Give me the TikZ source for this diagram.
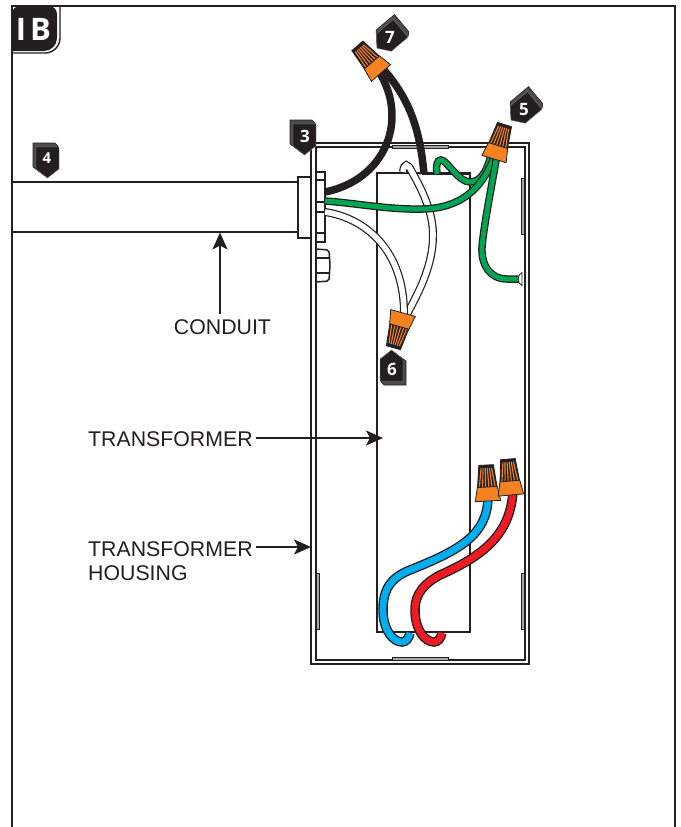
\documentclass[tikz,border=0pt]{standalone}
\usetikzlibrary{arrows.meta}
\usepackage{fontspec}
\setmainfont{Liberation Sans}
\newfontfamily\badgefont{Open Sans}
\definecolor{nutor}{HTML}{F58220}
\definecolor{wgreen}{HTML}{00A651}
\definecolor{wblue}{HTML}{00AEEF}
\definecolor{wred}{HTML}{ED1C24}
\definecolor{ink}{HTML}{231F20}
\newcommand{\wirepath}[5]{%
  \draw[#2,line width=#4] #1;
  \draw[#3,line width=#5] #1;}
\tikzset{
  frameline/.style={draw=ink,line width=1.8pt},
  thinline/.style={draw=ink,line width=1.5pt},
  housingtab/.style={draw=ink,line width=.8pt,fill=gray!70},
  labeltext/.style={font=\fontsize{21.3}{25}\selectfont,text=ink,inner sep=0pt},
  callout/.style={draw=ink,line width=1.5pt,-{Stealth[length=17pt,width=15pt,inset=4pt]}},
  badgenum/.style={text=white,inner sep=0pt,font=\badgefont\bfseries\fontsize{17}{17}\selectfont},
  wirenut/.pic={
    \path[fill=ink,draw=ink,line width=.8pt] (-10,-12) -- (-7.3,-36) -- (7.3,-36) -- (10,-12) -- cycle;
    \foreach \k in {-5,-3,-1,1,3,5}{\draw[nutor,line width=1.1pt] (\k*1.6,-13) -- (\k*1.05,-33);}
    \path[fill=nutor,draw=ink,line width=.8pt] (-12.7,0) -- (-10,-14) -- (10,-14) -- (12.7,0) -- cycle;
  },
  badge/.pic={
    \path[fill=gray!60!black,draw=ink,line width=.6pt] (-14,-15) -- (8,-15) -- (11,-12) -- (11,9) -- (-2,18) -- (-14,9) -- cycle;
    \path[fill=ink,draw=gray,line width=.4pt] (-11,-11) -- (12,-11) -- (12,11) -- (0.5,20) -- (-11,11) -- cycle;
  },
}
\begin{document}
\begin{tikzpicture}[x=1pt,y=-1pt]
\useasboundingbox (0,0) rectangle (680,827);
\fill[white] (0,0) rectangle (680,827);
% outer frame
\draw[frameline] (12,827) -- (12,6) -- (675,6) -- (675,827);
\fill[ink] (12,51) [rounded corners=8pt] -- (12,6) -- (57,6) [rounded corners=13pt] -- (57,51) [sharp corners] -- cycle;
\draw[ink,line width=1.4pt] (60,6) [rounded corners=15pt] -- (60,53) [sharp corners] -- (12,53);
\node[text=white,inner sep=0pt,font=\badgefont\bfseries\fontsize{31}{31}\selectfont] (tabtitle) at (33.5,29) {I\kern4pt B};
% housing
\draw[thinline,fill=white] (311,143) rectangle (529,664);
\draw[thinline] (316,147) rectangle (525,660);
\draw[housingtab] (392,145) rectangle (448,148);
\draw[housingtab] (392,657) rectangle (448,660);
\draw[housingtab] (521,178) rectangle (524,234);
\draw[housingtab] (521,573) rectangle (524,629);
\draw[housingtab] (316,573) rectangle (319,629);
% transformer
\draw[thinline] (377,173) rectangle (470,632);
\draw[ink,line width=2.2pt] (377,632) -- (470,632);
\draw[ink,line width=2.2pt] (422,173.5) -- (470,173.5);
% conduit
\draw[thinline,fill=white] (12,182) rectangle (298,232);
\draw[thinline,fill=white] (298,177) rectangle (311,238);
\draw[thinline,fill=white] (316,172) rectangle (325,242);
\draw[thinline] (316,180) -- (325,180) (316,202) -- (325,202) (316,212) -- (325,212) (316,233) -- (325,233);
\draw[thinline,fill=white,rounded corners=2pt] (316,249) -- (329,250) -- (330,265) -- (329,281) -- (316,282) -- cycle;
\draw[thinline] (316,258) -- (330,258) (316,273) -- (330,273);
% white wires
\wirepath{(403,172) .. controls (404,163) and (408,163) .. (412,172) .. controls (425,195) and (433,215) .. (433,235) .. controls (433,265) and (420,290) .. (406,316)}{ink}{white}{8pt}{5.6pt}
\wirepath{(325,212) .. controls (365,218) and (405,250) .. (404,316)}{ink}{white}{8pt}{5.6pt}
% black wires
\draw[ink,line width=7.5pt] (325,192) .. controls (385,180) and (410,120) .. (378,70);
\draw[ink,line width=7.5pt] (424,174) .. controls (420,130) and (410,100) .. (384,70);
% green wires
\wirepath{(437,174) .. controls (436,165) and (437,160) .. (441,160) .. controls (447,160) and (458,182) .. (470,182) .. controls (480,182) and (487,172) .. (491,155)}{ink}{wgreen}{7.5pt}{5pt}
\wirepath{(325,201) .. controls (355,203) and (390,210) .. (423,209) .. controls (460,208) and (482,190) .. (495,155)}{ink}{wgreen}{7.5pt}{5pt}
\wirepath{(497,155) .. controls (490,195) and (484,225) .. (482,247) .. controls (481,265) and (490,279) .. (507,279) -- (520,279)}{ink}{wgreen}{7.5pt}{5pt}
\draw[ink,line width=.8pt,fill=white] (522,272.5) .. controls (517,274) and (517,284) .. (522,285.5) -- cycle;
% blue and red wires
\wirepath{(488,498) .. controls (487,535) and (460,550) .. (410,570) .. controls (390,578) and (383,590) .. (383,610) .. controls (383,630) and (393,642) .. (402,642) .. controls (406,642) and (409,638) .. (410,633)}{ink}{wblue}{9.5pt}{6.8pt}
\wirepath{(513,492) .. controls (510,530) and (490,553) .. (440,575) .. controls (425,583) and (415,593) .. (415,610) .. controls (415,630) and (425,642) .. (434,642) .. controls (438,642) and (441,638) .. (442,633)}{ink}{wred}{9.5pt}{6.8pt}
% wire connectors
\pic (nutseven) [rotate=41] at (381,73) {wirenut};
\pic (nutfive) [rotate=-17] at (494,159) {wirenut};
\pic (nutsix) [rotate=164.5] at (403,313) {wirenut};
\pic (nutblue) [rotate=3] at (488,501) {wirenut};
\pic (nutred) [rotate=5] at (511,495) {wirenut};
% badges
\pic (badgethree) at (304,135) {badge};
\node[badgenum] (numthree) at (305,136) {3};
\pic (badgefour) at (47,158) {badge};
\node[badgenum,font=\badgefont\bfseries\fontsize{15}{15}\selectfont] (numfour) at (47,158) {4};
\pic (badgefive) [rotate=-50] at (526,107) {badge};
\node[badgenum] (numfive) at (524,110) {5};
\pic (badgesix) [rotate=180] at (392,370) {badge};
\node[badgenum] (numsix) at (392,369) {6};
\pic (badgeseven) [rotate=-50] at (392,35) {badge};
\node[badgenum] (numseven) at (390,37) {7};
% labels
\node[labeltext,anchor=base] (conduitlabel) at (222.5,334.5) {CONDUIT};
\coordinate (conduitend) at (220,232.5);
\coordinate (conduitstart) at (220,314);
\draw[callout] (conduitstart) -- (conduitend);
\node[labeltext,anchor=base west] (transformerlabel) at (88,446) {TRANSFORMER};
\coordinate (transformerend) at (383,438);
\draw[callout] ([xshift=3pt]transformerlabel.east |- transformerend) -- (transformerend);
\node[labeltext,anchor=base west] (housinglabel) at (88,556) {TRANSFORMER};
\node[labeltext,anchor=base west] (housinglabeltwo) at (88,580) {HOUSING};
\coordinate (housingend) at (311,547);
\draw[callout] ([xshift=3pt]housinglabel.east |- housingend) -- (housingend);
\end{tikzpicture}
\end{document}
